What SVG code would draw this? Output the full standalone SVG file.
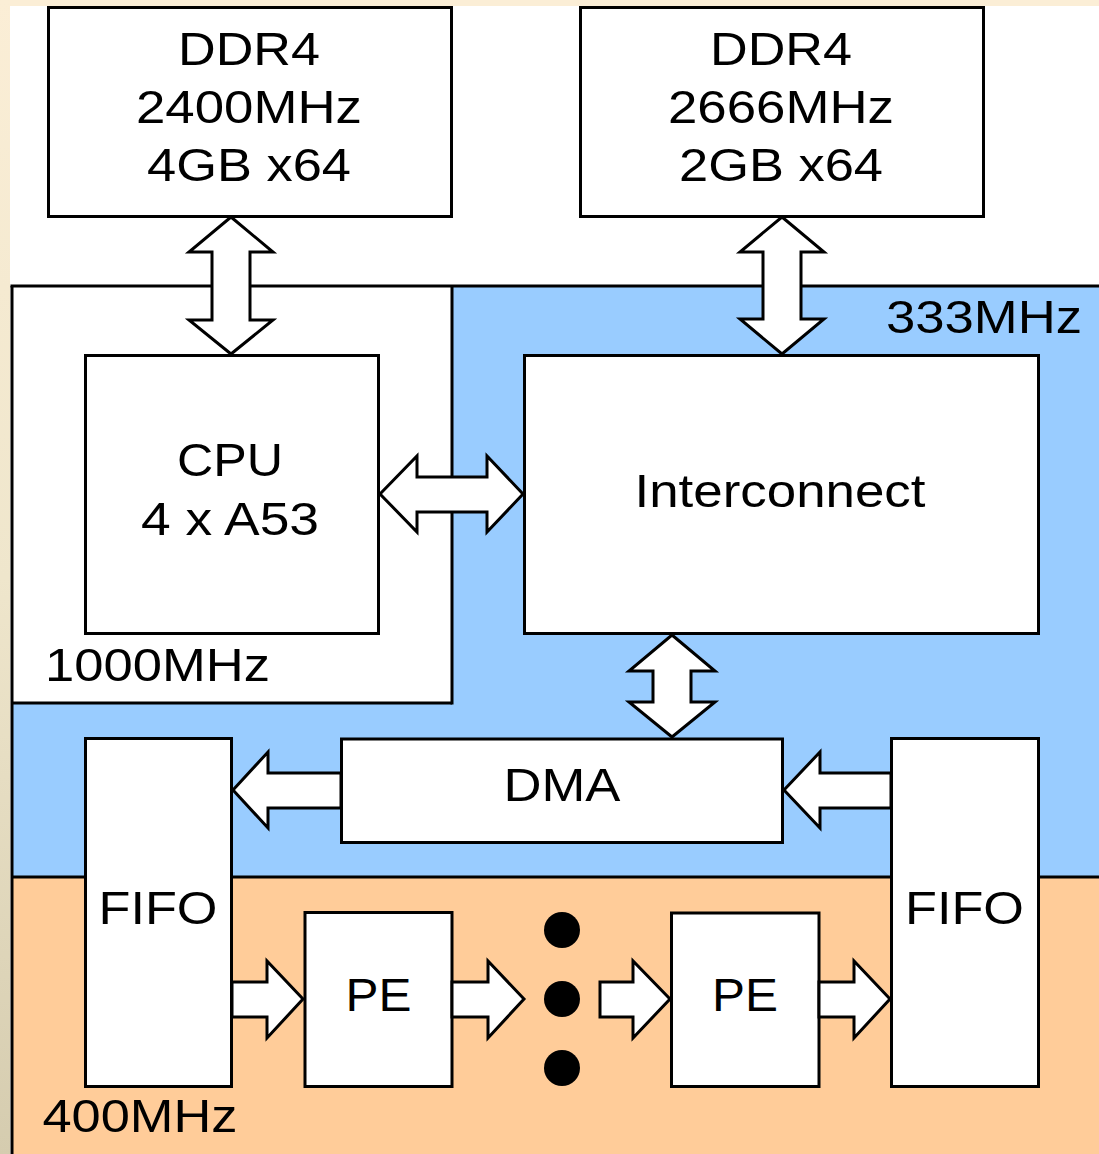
<svg xmlns="http://www.w3.org/2000/svg" width="1099" height="1154" viewBox="0 0 1099 1154">
  <defs>
    <linearGradient id="sideGrad" x1="0" y1="0" x2="0" y2="1154" gradientUnits="userSpaceOnUse">
      <stop offset="0" stop-color="#FBEED6"/>
      <stop offset="0.5" stop-color="#EFE6CC"/>
      <stop offset="1" stop-color="#D5CCAF"/>
    </linearGradient>
    <style>
      .box { fill: #ffffff; stroke: #000000; stroke-width: 3; }
      .line { fill: none; stroke: #000000; stroke-width: 3; }
      .arrow { fill: #ffffff; stroke: #000000; stroke-width: 3; stroke-linejoin: miter; stroke-miterlimit: 10; }
      .lbl { font-family: "Liberation Sans", Arial, Helvetica, sans-serif; font-size: 46px; fill: #000000; }
      .mid { text-anchor: middle; }
      .dot { fill: #000000; }
    </style>
  </defs>

  <g id="background">
    <rect x="0" y="0" width="1099" height="1154" fill="#ffffff"/>
    <rect x="0" y="0" width="1099" height="6" fill="#FBEED6"/>
    <rect x="0" y="0" width="10" height="1154" fill="url(#sideGrad)"/>
  </g>

  <g id="clock-domains">
    <rect id="domain-1000" x="12" y="286" width="440" height="417" fill="#ffffff"/>
    <polygon id="domain-333" points="452,286 1099,286 1099,877 12,877 12,703 452,703" fill="#99CCFF"/>
    <rect id="domain-400" x="12" y="877" width="1087" height="277" fill="#FFCC99"/>
    <line class="line" x1="10.5" y1="286" x2="1099" y2="286"/>
    <line class="line" x1="12" y1="286" x2="12" y2="1154"/>
    <line class="line" x1="452" y1="286" x2="452" y2="704.5"/>
    <line class="line" x1="12" y1="703" x2="452" y2="703"/>
    <line class="line" x1="12" y1="877" x2="1099" y2="877"/>
    <text class="lbl" x="886" y="333" textLength="196" lengthAdjust="spacingAndGlyphs">333MHz</text>
    <text class="lbl" x="45" y="681" textLength="225" lengthAdjust="spacingAndGlyphs">1000MHz</text>
    <text class="lbl" x="42.5" y="1132" textLength="195" lengthAdjust="spacingAndGlyphs">400MHz</text>
  </g>

  <g id="ddr4-left">
    <rect class="box" x="48.5" y="7.5" width="403" height="209"/>
    <text class="lbl mid" x="249" y="65" textLength="142" lengthAdjust="spacingAndGlyphs">DDR4</text>
    <text class="lbl mid" x="249" y="123" textLength="226" lengthAdjust="spacingAndGlyphs">2400MHz</text>
    <text class="lbl mid" x="249" y="181" textLength="204" lengthAdjust="spacingAndGlyphs">4GB x64</text>
  </g>

  <g id="ddr4-right">
    <rect class="box" x="580.5" y="7.5" width="403" height="209"/>
    <text class="lbl mid" x="781" y="65" textLength="142" lengthAdjust="spacingAndGlyphs">DDR4</text>
    <text class="lbl mid" x="781" y="123" textLength="226" lengthAdjust="spacingAndGlyphs">2666MHz</text>
    <text class="lbl mid" x="781" y="181" textLength="204" lengthAdjust="spacingAndGlyphs">2GB x64</text>
  </g>

  <g id="cpu">
    <rect class="box" x="85.5" y="355.5" width="293" height="278"/>
    <text class="lbl mid" x="230" y="476" textLength="106" lengthAdjust="spacingAndGlyphs">CPU</text>
    <text class="lbl mid" x="230" y="535" textLength="178" lengthAdjust="spacingAndGlyphs">4 x A53</text>
  </g>

  <g id="interconnect">
    <rect class="box" x="524.5" y="355.5" width="514" height="278"/>
    <text class="lbl mid" x="780" y="507" textLength="291" lengthAdjust="spacingAndGlyphs">Interconnect</text>
  </g>

  <g id="dma">
    <rect class="box" x="341.5" y="739" width="441" height="103.5"/>
    <text class="lbl mid" x="562" y="801" textLength="117" lengthAdjust="spacingAndGlyphs">DMA</text>
  </g>

  <g id="fifo-left">
    <rect class="box" x="85.5" y="738.5" width="146" height="348"/>
    <text class="lbl mid" x="158" y="924" textLength="119" lengthAdjust="spacingAndGlyphs">FIFO</text>
  </g>

  <g id="fifo-right">
    <rect class="box" x="891.5" y="738.5" width="147" height="348"/>
    <text class="lbl mid" x="964.5" y="924" textLength="119" lengthAdjust="spacingAndGlyphs">FIFO</text>
  </g>

  <g id="pe-left">
    <rect class="box" x="305" y="912.5" width="147" height="174"/>
    <text class="lbl mid" x="378.5" y="1011" textLength="66" lengthAdjust="spacingAndGlyphs">PE</text>
  </g>

  <g id="pe-right">
    <rect class="box" x="671.5" y="913" width="147.5" height="173.5"/>
    <text class="lbl mid" x="745" y="1011" textLength="66" lengthAdjust="spacingAndGlyphs">PE</text>
  </g>

  <g id="ellipsis">
    <ellipse class="dot" cx="562" cy="930" rx="18" ry="18"/>
    <ellipse class="dot" cx="562" cy="999" rx="18" ry="18"/>
    <ellipse class="dot" cx="562" cy="1068" rx="18" ry="18"/>
  </g>

  <g id="connectors">
    <polygon class="arrow" points="231,217 273,252 250,252 250,320 273,320 231,354 189,320 212,320 212,252 189,252"/>
    <polygon class="arrow" points="782,217 824,252 801,252 801,319 824,319 782,354 740,319 763,319 763,252 740,252"/>
    <polygon class="arrow" points="380,494 417,456 417,477 487,477 487,456 523,494 487,532 487,512 417,512 417,532"/>
    <polygon class="arrow" points="672,635 715,671 691,671 691,702 715,702 672,737 629,702 653,702 653,671 629,671"/>
    <polygon class="arrow" points="233,790 268,752 268,773 341,773 341,808 268,808 268,828"/>
    <polygon class="arrow" points="784,790 820,752 820,773 891,773 891,808 820,808 820,828"/>
    <polygon class="arrow" points="232,982 267,982 267,961 303,999 267,1038 267,1017 232,1017"/>
    <polygon class="arrow" points="452,982 488,982 488,961 524,999 488,1038 488,1017 452,1017"/>
    <polygon class="arrow" points="600,982 633,982 633,961 670,999 633,1038 633,1017 600,1017"/>
    <polygon class="arrow" points="819,982 854,982 854,961 890,999 854,1038 854,1017 819,1017"/>
  </g>
</svg>
